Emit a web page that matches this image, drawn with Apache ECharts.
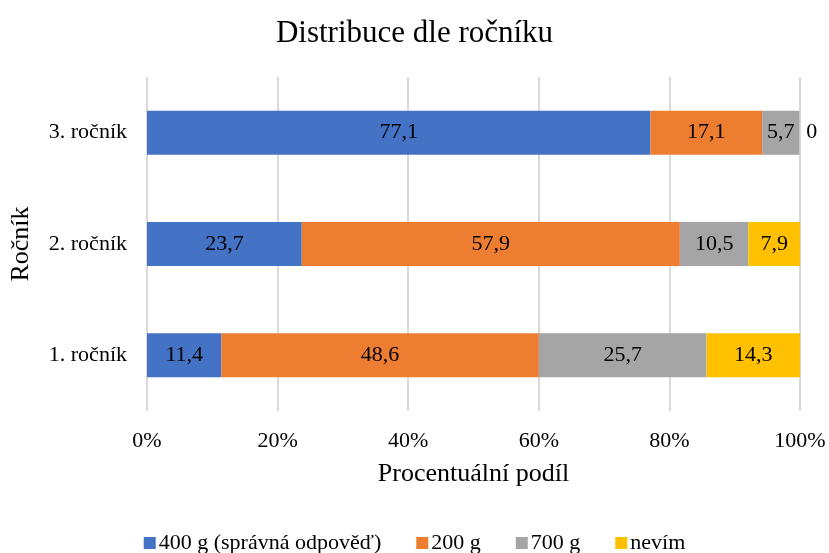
<!DOCTYPE html>
<html>
<head>
<meta charset="utf-8">
<script src="https://cdn.jsdelivr.net/npm/echarts@6/dist/echarts.min.js"></script>
<style>
  html, body { margin: 0; padding: 0; background: #fff; }
  #chart { width: 829px; height: 553px; }
</style>
</head>
<body>
<div id="chart"></div>
<script>
const categories = ["1. ročník", "2. ročník", "3. ročník"];
const seriesNames = ["400 g (správná odpověď)", "200 g", "700 g", "nevím"];
const values400 = [11.4, 23.7, 77.1];
const values200 = [48.6, 57.9, 17.1];
const values700 = [25.7, 10.5, 5.7];
const valuesNevim = [14.3, 7.9, 0];
const xTicks = [0, 20, 40, 60, 80, 100];

const colors = ["#4472C4", "#ED7D31", "#A5A5A5", "#FFC000"];
const font = "'Liberation Serif', 'DejaVu Serif', serif";

const chart = echarts.init(document.getElementById("chart"));

const allValues = [values400, values200, values700, valuesNevim];

// zero-width segments get their label outside the bar, like the original
const series = allValues.map((vals, i) => ({
  name: seriesNames[i],
  type: "bar",
  stack: "total",
  barWidth: 44,
  itemStyle: { color: colors[i] },
  label: {
    show: true,
    position: "inside",
    color: "#000",
    fontFamily: font,
    fontSize: 22,
    formatter: (p) => String(p.value).replace(".", ",")
  },
  data: vals.map(v => v === 0
    ? { value: v, label: { position: "right", distance: 7 } }
    : v)
}));

chart.setOption({
  animation: false,
  textStyle: { fontFamily: font },
  title: {
    text: "Distribuce dle ročníku",
    left: "center",
    top: 13,
    textStyle: { fontFamily: font, fontSize: 31, fontWeight: "normal", color: "#000" }
  },
  legend: {
    top: 527,
    left: "center",
    itemWidth: 12,
    itemHeight: 12,
    itemGap: 35,
    icon: "rect",
    textStyle: { fontFamily: font, fontSize: 22, color: "#000", padding: [0, 0, 0, -2] },
    data: seriesNames
  },
  grid: { left: 147, right: 29, top: 77, bottom: 142, containLabel: false },
  xAxis: {
    type: "value",
    min: 0,
    max: 100,
    interval: 20,
    name: "Procentuální podíl",
    nameLocation: "middle",
    nameGap: 50,
    nameTextStyle: { fontFamily: font, fontSize: 26, color: "#000" },
    axisLine: { show: false },
    axisTick: { show: false },
    axisLabel: {
      fontFamily: font, fontSize: 22, color: "#000", margin: 19,
      formatter: (v) => xTicks.includes(v) ? v + "%" : ""
    },
    splitLine: { show: true, lineStyle: { color: "#d9d9d9", width: 2 } }
  },
  yAxis: {
    type: "category",
    data: categories,
    name: "Ročník",
    nameLocation: "middle",
    nameGap: 113,
    nameRotate: 90,
    nameTextStyle: { fontFamily: font, fontSize: 26, color: "#000" },
    axisLine: { show: false },
    axisTick: { show: false },
    axisLabel: { fontFamily: font, fontSize: 22, color: "#000", margin: 20 }
  },
  series: series
});
</script>
</body>
</html>
